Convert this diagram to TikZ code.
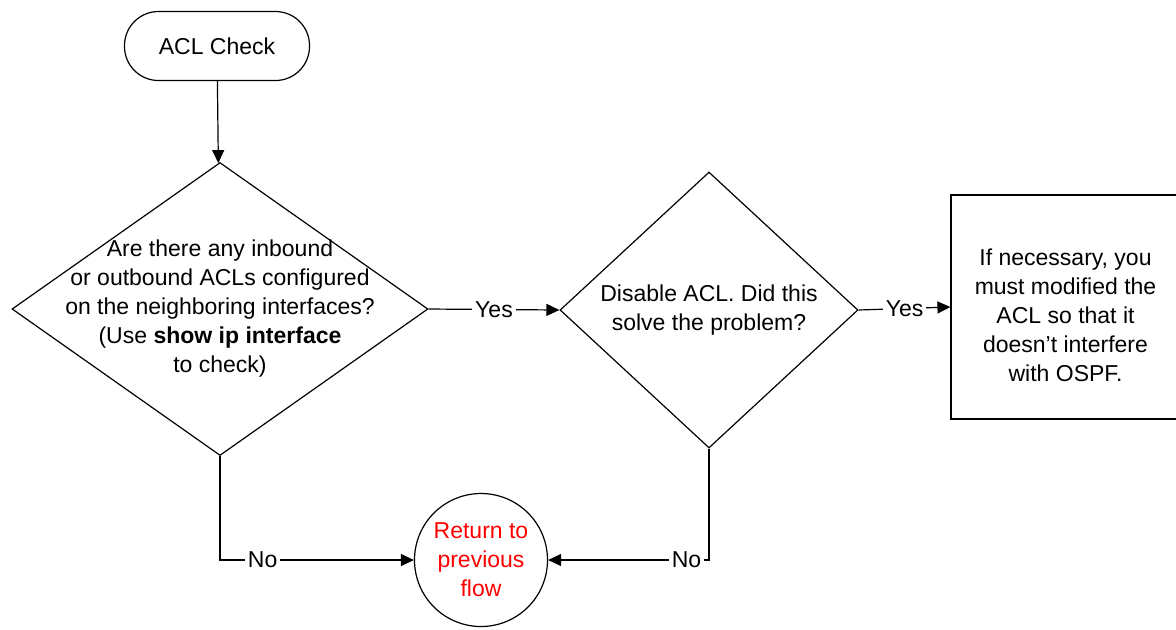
\documentclass[tikz,border=0pt]{standalone}
\usepackage{fontspec}
\setmainfont{Liberation Sans}
\usetikzlibrary{arrows.meta, positioning, shapes.geometric, shapes.misc}

\tikzset{
  every node/.style={font=\fontsize{11.5}{14.5}\selectfont},
  terminal/.style={draw, rectangle, rounded corners=17pt, minimum width=92.5pt, minimum height=34.5pt},
  decision/.style={draw, diamond, inner sep=0pt},
  process/.style={draw, rectangle, minimum width=114.5pt, minimum height=112pt},
  connector/.style={draw, circle, align=center, text=red, minimum size=66.5pt, inner sep=0pt},
  flow/.style={line width=0.6pt, -{Triangle[length=6.5pt, width=6pt]}},
  lbl/.style={fill=white, inner sep=1.5pt}
}

\begin{document}
\begin{tikzpicture}[x=0.5pt, y=-0.5pt, line width=0.6pt]
    \useasboundingbox (0,0) rectangle (1176,629);

    % shapes
    \node[terminal] (start) at (217,46) {ACL Check};
    \node[decision, minimum width=208pt, minimum height=146.5pt] (acls) at (220,309) {};
    \node[align=center] (aclstext) at (acls) {Are there any inbound\\ or outbound ACLs configured\\ on the neighboring interfaces?\\ (Use \textbf{show ip interface}\\ to check)};
    \node[decision, minimum width=149pt, minimum height=138pt] (disable) at (709,310) {};
    \node[align=center] (disabletext) at (disable) {Disable ACL. Did this\\ solve the problem?};
    \node[process] (modify) at (1065.5,307) {};
    \node[align=center, yshift=-4pt] (modifytext) at (modify) {If necessary, you\\ must modified the\\ ACL so that it\\ doesn't interfere\\ with OSPF.};
    \node[connector] (return) at (481,560) {Return to\\ previous\\ flow};

    % connectors
    \draw[flow] (start) -- (acls);
    \draw[flow] (acls.east) -- node[lbl] {Yes} (disable.west);
    \draw[flow] (disable.east) -- node[lbl] {Yes} (modify.west);
    \draw[flow] (acls.south) |- node[lbl, pos=0.61] {No} (return.west);
    \draw[flow] (disable.south) |- node[lbl, pos=0.57] {No} (return.east);
\end{tikzpicture}
\end{document}
